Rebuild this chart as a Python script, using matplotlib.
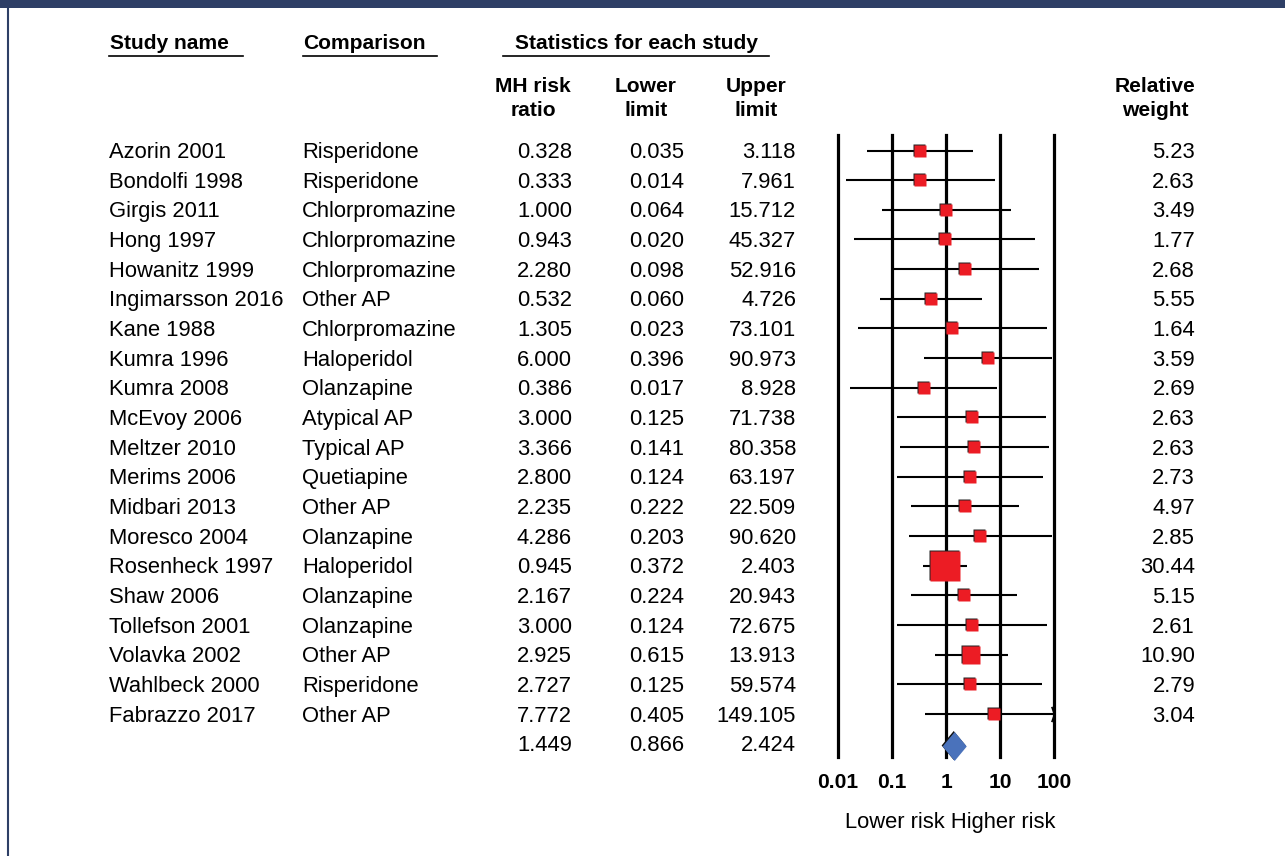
import numpy as np
import matplotlib
matplotlib.use("Agg")
import matplotlib.pyplot as plt
from matplotlib.patches import Rectangle, Polygon
from matplotlib.path import Path
from matplotlib.lines import Line2D
import matplotlib.transforms as mtransforms

# ---------------- data ----------------
studies = ["Azorin 2001", "Bondolfi 1998", "Girgis 2011", "Hong 1997", "Howanitz 1999",
           "Ingimarsson 2016", "Kane 1988", "Kumra 1996", "Kumra 2008", "McEvoy 2006",
           "Meltzer 2010", "Merims 2006", "Midbari 2013", "Moresco 2004", "Rosenheck 1997",
           "Shaw 2006", "Tollefson 2001", "Volavka 2002", "Wahlbeck 2000", "Fabrazzo 2017"]
comparisons = ["Risperidone", "Risperidone", "Chlorpromazine", "Chlorpromazine", "Chlorpromazine",
               "Other AP", "Chlorpromazine", "Haloperidol", "Olanzapine", "Atypical AP",
               "Typical AP", "Quetiapine", "Other AP", "Olanzapine", "Haloperidol",
               "Olanzapine", "Olanzapine", "Other AP", "Risperidone", "Other AP"]
rr = [0.328, 0.333, 1.000, 0.943, 2.280, 0.532, 1.305, 6.000, 0.386, 3.000,
      3.366, 2.800, 2.235, 4.286, 0.945, 2.167, 3.000, 2.925, 2.727, 7.772]
lower = [0.035, 0.014, 0.064, 0.020, 0.098, 0.060, 0.023, 0.396, 0.017, 0.125,
         0.141, 0.124, 0.222, 0.203, 0.372, 0.224, 0.124, 0.615, 0.125, 0.405]
upper = [3.118, 7.961, 15.712, 45.327, 52.916, 4.726, 73.101, 90.973, 8.928, 71.738,
         80.358, 63.197, 22.509, 90.620, 2.403, 20.943, 72.675, 13.913, 59.574, 149.105]
weights = [5.23, 2.63, 3.49, 1.77, 2.68, 5.55, 1.64, 3.59, 2.69, 2.63,
           2.63, 2.73, 4.97, 2.85, 30.44, 5.15, 2.61, 10.90, 2.79, 3.04]
summary = (1.449, 0.866, 2.424)
tick_vals = [0.01, 0.1, 1, 10, 100]
tick_labels = ["0.01", "0.1", "1", "10", "100"]

# ---------------- layout ----------------
W, H = 1285, 856
DPI = 100
plt.rcParams['font.family'] = ['Liberation Sans', 'DejaVu Sans']
FS = 15.8   # regular text
FSB = 15.1  # bold headers

fig = plt.figure(figsize=(W / DPI, H / DPI), dpi=DPI)
fig.patch.set_facecolor("white")

def fx(x):
    return x / W

def fy(y):
    return 1 - y / H

NAVY = "#2e3f66"
fig.add_artist(Rectangle((0, fy(8)), 1, 8 / H, transform=fig.transFigure,
                         facecolor=NAVY, edgecolor="none"))
fig.add_artist(Line2D([fx(8), fx(8)], [fy(8), 0], transform=fig.transFigure,
                      color=NAVY, lw=1.5))

ROW0 = 150.5
DY = 29.66

def row_base(i):
    return ROW0 + DY * i + 7.5

# headers
HB = 49
fig.text(fx(110), fy(HB), "Study name", fontsize=FSB, fontweight="bold", va="baseline", ha="left")
fig.text(fx(303), fy(HB), "Comparison", fontsize=FSB, fontweight="bold", va="baseline", ha="left")
fig.text(fx(636), fy(HB), "Statistics for each study", fontsize=FSB, fontweight="bold",
         va="baseline", ha="center")
for x0, x1 in [(109, 243), (303, 437), (503, 769)]:
    fig.add_artist(Line2D([fx(x0), fx(x1)], [fy(56), fy(56)], transform=fig.transFigure,
                          color="black", lw=1.2))

for cx, l1, l2 in [(533, "MH risk", "ratio"), (646, "Lower", "limit"),
                   (756, "Upper", "limit"), (1155, "Relative", "weight")]:
    fig.text(fx(cx), fy(92), l1, fontsize=FSB, fontweight="bold", va="baseline", ha="center")
    fig.text(fx(cx), fy(116), l2, fontsize=FSB, fontweight="bold", va="baseline", ha="center")

# table rows
for i in range(len(studies)):
    yb = fy(row_base(i))
    fig.text(fx(109), yb, studies[i], fontsize=FS, va="baseline", ha="left")
    fig.text(fx(302), yb, comparisons[i], fontsize=FS, va="baseline", ha="left")
    fig.text(fx(572), yb, f"{rr[i]:.3f}", fontsize=FS, va="baseline", ha="right")
    fig.text(fx(684), yb, f"{lower[i]:.3f}", fontsize=FS, va="baseline", ha="right")
    fig.text(fx(796), yb, f"{upper[i]:.3f}", fontsize=FS, va="baseline", ha="right")
    fig.text(fx(1195), yb, f"{weights[i]:.2f}", fontsize=FS, va="baseline", ha="right")

n = len(studies)
ysb = fy(row_base(n))
fig.text(fx(572), ysb, f"{summary[0]:.3f}", fontsize=FS, va="baseline", ha="right")
fig.text(fx(684), ysb, f"{summary[1]:.3f}", fontsize=FS, va="baseline", ha="right")
fig.text(fx(796), ysb, f"{summary[2]:.3f}", fontsize=FS, va="baseline", ha="right")

# ---------------- forest axes ----------------
PX0, PX1 = 838, 1054
PY0, PY1 = 135, 757
ax = fig.add_axes([fx(PX0), fy(PY1), (PX1 - PX0) / W, (PY1 - PY0) / H])
ax.set_xscale("log")
ax.set_xlim(tick_vals[0], tick_vals[-1])
ax.set_ylim((PY1 - ROW0) / DY, (PY0 - ROW0) / DY)
ax.axis("off")

for tv in tick_vals:
    ax.axvline(tv, color="black", lw=2.3, zorder=1, clip_on=False)

RED = "#ec1c24"
shadow = mtransforms.offset_copy(ax.transData, fig=fig, x=-1.0, y=1.0, units="dots")
for i in range(n):
    hi = min(upper[i], tick_vals[-1])
    ax.plot([lower[i], hi], [i, i], color="black", lw=1.5, zorder=2, clip_on=False,
            solid_capstyle="butt")
    size_px = max(12, 5.3 * np.sqrt(weights[i]))
    ms = size_px * 72 / DPI
    ax.plot([rr[i]], [i], marker="s", ms=ms, color="#222222", mec="none",
            transform=shadow, zorder=3, clip_on=False)
    ax.plot([rr[i]], [i], marker="s", ms=ms, color=RED, mec="none", zorder=4, clip_on=False)
    if upper[i] > tick_vals[-1]:
        head = Path([(-0.35, 1), (0, 0), (-0.35, -1)], [Path.MOVETO, Path.LINETO, Path.LINETO])
        ax.plot([tick_vals[-1]], [i], marker=head, ms=11, mfc="none", mec="black",
                mew=1.2, zorder=3, clip_on=False)

# summary diamond
ys = (746.5 - ROW0) / DY
hh = 14.5 / DY
pts = [(summary[1], ys), (summary[0], ys - hh), (summary[2], ys), (summary[0], ys + hh)]
dia = Polygon(pts, closed=True, facecolor="#4a72bb", edgecolor="none", zorder=5, clip_on=False)
dia_sh = Polygon(pts, closed=True, facecolor="#111111", edgecolor="none", zorder=4, clip_on=False,
                 transform=shadow)
ax.add_patch(dia_sh)
ax.add_patch(dia)

# tick labels
for tv, tl in zip(tick_vals, tick_labels):
    xpix = ax.transData.transform((tv, 0))[0]
    fig.text(xpix / W, fy(788), tl, fontsize=FSB, fontweight="bold", va="baseline", ha="center")

fig.text(fx(950), fy(828), "Lower risk Higher risk", fontsize=FS, va="baseline", ha="center")

fig.savefig("out.png", dpi=DPI, facecolor="white")
